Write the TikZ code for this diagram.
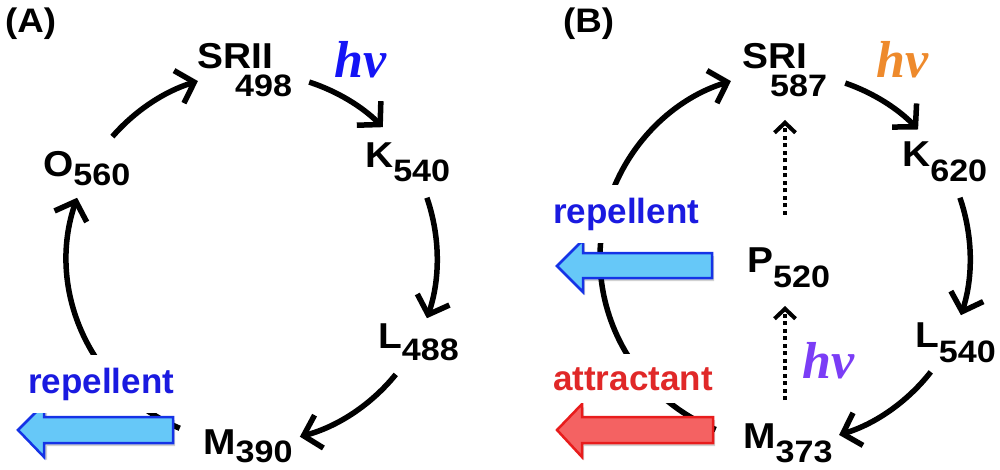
\documentclass[tikz,border=0pt]{standalone}
\usepackage{fontspec}
\setmainfont{Liberation Sans}
\newfontfamily\statefont[FakeStretch=1.08]{Liberation Sans}
\newfontfamily\subsfont[FakeStretch=1.1]{Liberation Sans}
\newfontfamily\tmsfont{Liberation Serif}
\usetikzlibrary{arrows.meta}
\definecolor{hvblue}{HTML}{1414F5}
\definecolor{hvorange}{HTML}{EE8A2C}
\definecolor{hvpurple}{HTML}{7B3DF6}
\definecolor{repblue}{HTML}{1A1AE0}
\definecolor{attred}{HTML}{E02828}
\definecolor{arrblue}{HTML}{66C8F8}
\definecolor{arrblueedge}{HTML}{1533E6}
\definecolor{arrred}{HTML}{F46262}
\definecolor{arrrededge}{HTML}{E81C1C}
\newcommand{\sbs}[2]{\raisebox{-#1pt}{\subsfont\fontsize{31}{34}\selectfont\bfseries #2}}
\tikzset{
  lbl/.style={inner sep=0pt, anchor=base west, font=\statefont\fontsize{36}{40}\selectfont\bfseries},
  panel/.style={inner sep=0pt, anchor=base west, font=\statefont\fontsize{34}{38}\selectfont\bfseries},
  hvl/.style={inner sep=0pt, anchor=base west, font=\fontsize{52}{56}\selectfont\tmsfont\bfseries\itshape},
  cue/.style={inner xsep=3pt, inner ysep=13pt, anchor=base west, fill=white, font=\fontsize{35}{38}\selectfont\bfseries},
  cyc/.style={line width=5.5pt, -{Straight Barb[length=16pt,width=34pt]}},
  dotl/.style={line width=4pt, dash pattern=on 4pt off 3.5pt, -{Straight Barb[length=10pt,width=21pt]}},
  blk/.style={line width=2.5pt, line join=miter},
  shad/.style={fill=black, opacity=0.18}
}
\begin{document}
\begin{tikzpicture}[x=1pt,y=-1pt]
\useasboundingbox (0,0) rectangle (1000,470);

% ---------------- Panel A ----------------
\coordinate (cA) at (252,258);
\node[panel] (labA) at (5,33) {(A)};
\node[lbl] (SRII) at (197,69) {\rlap{SRII}\hspace*{38pt}\sbs{28}{498}};
\node[hvl, text=hvblue] (hvA) at (334,78) {hv};
\node[lbl] (KA) at (365,168) {K\sbs{14}{540}};
\node[lbl] (LA) at (378,348) {L\sbs{12}{488}};
\node[lbl] (MA) at (203,454) {M\sbs{8}{390}};
\node[lbl] (OA) at (43,177) {O\sbs{9}{560}};

\draw[cyc] ([shift={(cA)}]-139:185) arc[start angle=-139, end angle=-107, radius=185];
\draw[cyc] ([shift={(cA)}]-72:185) arc[start angle=-72, end angle=-45, radius=185];
\draw[cyc] ([shift={(cA)}]-19:185) arc[start angle=-19, end angle=19, radius=185];
\draw[cyc] ([shift={(cA)}]39:185) arc[start angle=39, end angle=75, radius=185];
\draw[cyc] ([shift={(cA)}]113:185) arc[start angle=113, end angle=199, radius=185];

\fill[shad] (175,420) -- (47,420) -- (47,407) -- (20,433) -- (47,460) -- (47,446) -- (175,446) -- cycle;
\draw[blk, draw=arrblueedge, fill=arrblue] (173,417) -- (44,417) -- (44,404) -- (18,430) -- (44,457) -- (44,443) -- (173,443) -- cycle;
\node[cue, text=repblue] (repA) at (25,393) {repellent};

% ---------------- Panel B ----------------
\coordinate (cB) at (785,258);
\node[panel] (labB) at (563,33) {(B)};
\node[lbl] (SRI) at (742,69) {\rlap{SRI}\hspace*{28pt}\sbs{28}{587}};
\node[hvl, text=hvorange] (hvB) at (876,78) {hv};
\node[lbl] (KB) at (902,167) {K\sbs{15}{620}};
\node[lbl] (LB) at (915,347) {L\sbs{15}{540}};
\node[lbl] (MB) at (743,448) {M\sbs{14}{373}};
\node[lbl] (PB) at (747,272) {P\sbs{15}{520}};
\node[hvl, text=hvpurple] (hvC) at (802,378) {hv};

\draw[cyc] ([shift={(cB)}]-71:185) arc[start angle=-71, end angle=-44, radius=185];
\draw[cyc] ([shift={(cB)}]-19:185) arc[start angle=-19, end angle=18, radius=185];
\draw[cyc] ([shift={(cB)}]38:185) arc[start angle=38, end angle=73, radius=185];
\draw[cyc] ([shift={(cB)}]112:185) arc[start angle=112, end angle=253, radius=185];

\coordinate (d1s) at (785,215);
\coordinate (d1e) at (785,120);
\coordinate (d2s) at (785,400);
\coordinate (d2e) at (785,306);
\draw[dotl] (d1s) -- (d1e);
\draw[dotl] (d2s) -- (d2e);

\fill[shad] (714,256) -- (585,256) -- (585,243) -- (559,269) -- (585,295) -- (585,281) -- (714,281) -- cycle;
\draw[blk, draw=arrblueedge, fill=arrblue] (712,253) -- (583,253) -- (583,240) -- (557,266) -- (583,292) -- (583,278) -- (712,278) -- cycle;
\fill[shad] (715,420) -- (584,420) -- (584,407) -- (559,433) -- (584,460) -- (584,446) -- (715,446) -- cycle;
\draw[blk, draw=arrrededge, fill=arrred] (713,417) -- (582,417) -- (582,404) -- (557,430) -- (582,457) -- (582,443) -- (713,443) -- cycle;
\node[cue, text=repblue] (repB) at (550,223) {repellent};
\node[cue, text=attred] (attB) at (550,390) {attractant};
\end{tikzpicture}
\end{document}
